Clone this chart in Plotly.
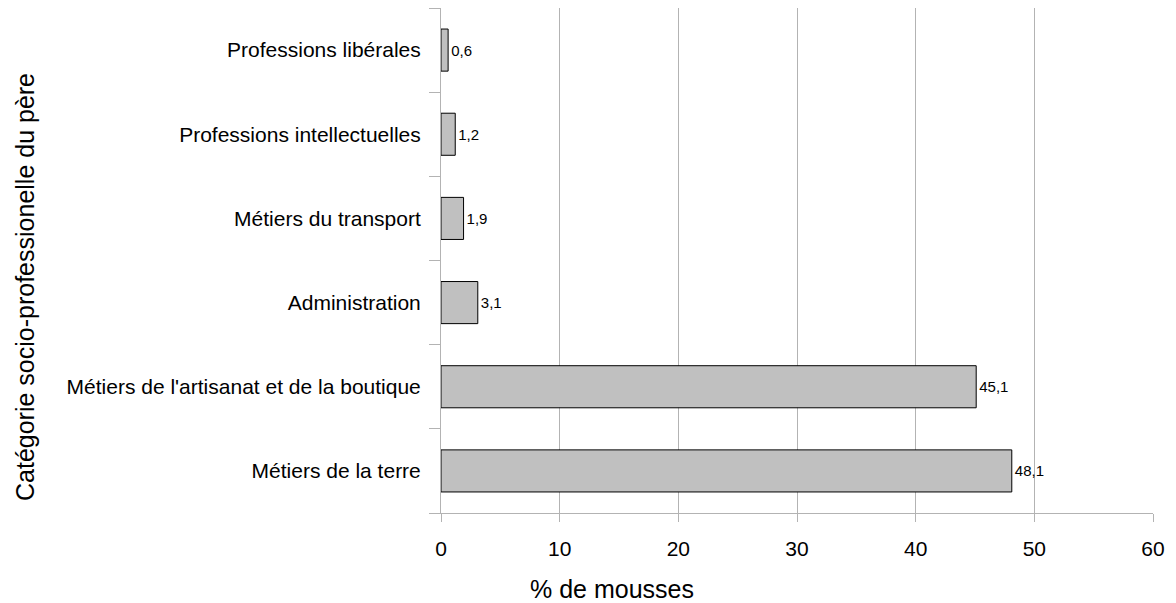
import plotly.graph_objects as go

categories = ["Métiers de la terre", "Métiers de l'artisanat et de la boutique",
              "Administration", "Métiers du transport",
              "Professions intellectuelles", "Professions libérales"]
values = [48.1, 45.1, 3.1, 1.9, 1.2, 0.6]
labels = ["48,1", "45,1", "3,1", "1,9", "1,2", "0,6"]
x_ticks = [0, 10, 20, 30, 40, 50, 60]

FONT = "Liberation Sans, Arial, sans-serif"
GRID = "#b3b3b3"

fig = go.Figure(go.Bar(
    y=categories, x=values, orientation="h",
    text=labels, textposition="outside", cliponaxis=False,
    textfont=dict(size=15, color="black", family=FONT),
    marker=dict(color="#c0c0c0", line=dict(color="black", width=1)),
    width=0.5,
))

fig.update_layout(
    width=1168, height=595,
    margin=dict(l=433, r=23, t=0, b=90),
    paper_bgcolor="white", plot_bgcolor="white",
    font=dict(family=FONT, color="black", size=21),
    showlegend=False,
    annotations=[
        dict(text="% de mousses", xref="paper", yref="paper", x=0, y=0,
             xshift=171, yshift=-76, xanchor="center", yanchor="middle",
             showarrow=False, font=dict(size=25, family=FONT)),
        dict(text="Catégorie socio-professionelle du père", xref="paper", yref="paper",
             x=0, xshift=-416, y=0, yshift=226, xanchor="center", yanchor="middle",
             textangle=-90, showarrow=False, font=dict(size=25, family=FONT)),
    ],
)
fig.update_xaxes(
    range=[0, 60], tickvals=x_ticks, showgrid=True, gridcolor=GRID, gridwidth=1,
    showline=True, linecolor=GRID, linewidth=1, ticks="outside", ticklen=8,
    tickcolor=GRID, tickfont=dict(size=21), ticklabelstandoff=9,
    zeroline=False, fixedrange=True,
)
fig.update_yaxes(
    type="category", categoryorder="array", categoryarray=categories,
    range=[-0.5, 5.5], showgrid=False, showline=True, linecolor=GRID, linewidth=1,
    ticks="outside", tickson="boundaries", ticklen=11, tickcolor=GRID,
    tickfont=dict(size=21), ticklabelstandoff=15, fixedrange=True,
)

fig.write_html("out.html")
